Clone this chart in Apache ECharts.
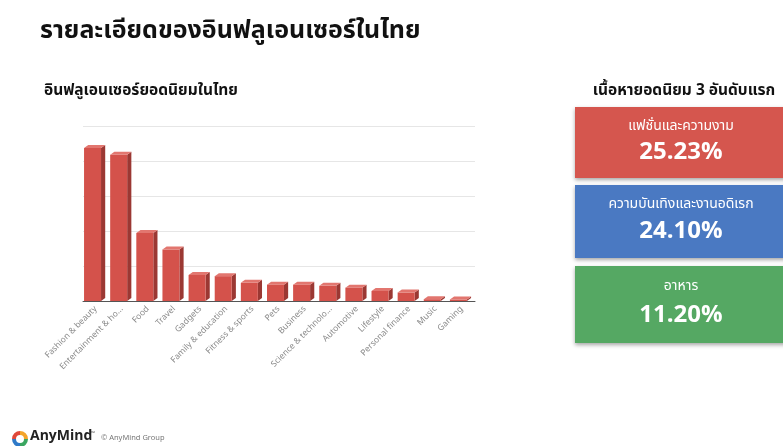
<!DOCTYPE html>
<html>
<head>
<meta charset="utf-8">
<script src="https://cdn.jsdelivr.net/npm/echarts@6/dist/echarts.min.js"></script>
<style>
html,body{margin:0;padding:0;background:#fff;}
#main{width:783px;height:446px;}
</style>
</head>
<body>
<div id="main"></div>
<script>
var categories = ["Fashion & beauty","Entertainment & ho...","Food","Travel","Gadgets","Family & education","Fitness & sports","Pets","Business","Science & technolo...","Automotive","Lifestyle","Personal finance","Music","Gaming"];
var shares = [25.23, 24.10, 11.20, 8.5, 4.3, 4.1, 3.0, 2.7, 2.7, 2.5, 2.2, 1.65, 1.4, 0.3, 0.25];
var topLabels = ["แฟชั่นและความงาม","ความบันเทิงและงานอดิเรก","อาหาร"];
var topValues = ["25.23%","24.10%","11.20%"];
var mainTitle = "รายละเอียดของอินฟลูเอนเซอร์ในไทย";
var chartTitle = "อินฟลูเอนเซอร์ยอดนิยมในไทย";
var sideTitle = "เนื้อหายอดนิยม 3 อันดับแรก";

var FONT = "'Noto Sans Thai','Noto Sans','DejaVu Sans',sans-serif";
var boxColors = ['#d5564e','#4a79c2','#55a863'];
var boxY = [107, 185, 266];
var boxH = [71, 73, 77];

var chart = echarts.init(document.getElementById('main'), null, {renderer:'canvas'});

var graphics = [
  {type:'text', x:40, y:33, style:{text:mainTitle, font:'bold 25px '+FONT, fill:'#111', verticalAlign:'middle'}},
  {type:'text', x:44, y:92, style:{text:chartTitle, font:'bold 15.5px '+FONT, fill:'#111', verticalAlign:'middle'}},
  {type:'text', x:684, y:92, style:{text:sideTitle, font:'bold 15.5px '+FONT, fill:'#111', align:'center', verticalAlign:'middle'}},
  // footer
  {type:'text', left:30, top:430, style:{text:'AnyMind', font:'bold 14px '+FONT, fill:'#222'}},
  {type:'text', left:91, top:431, style:{text:'™', font:'5px '+FONT, fill:'#444'}},
  {type:'text', left:101, top:434, style:{text:'© AnyMind Group', font:'7.5px '+FONT, fill:'#777'}},
  {type:'arc', shape:{cx:20, cy:439, r:6, startAngle:Math.PI*1.0, endAngle:Math.PI*1.5}, style:{stroke:'#e0483a', lineWidth:4, fill:null}},
  {type:'arc', shape:{cx:20, cy:439, r:6, startAngle:Math.PI*1.5, endAngle:Math.PI*2.0}, style:{stroke:'#f4a52a', lineWidth:4, fill:null}},
  {type:'arc', shape:{cx:20, cy:439, r:6, startAngle:0, endAngle:Math.PI*0.5}, style:{stroke:'#3aa660', lineWidth:4, fill:null}},
  {type:'arc', shape:{cx:20, cy:439, r:6, startAngle:Math.PI*0.5, endAngle:Math.PI*1.0}, style:{stroke:'#2f7ac8', lineWidth:4, fill:null}}
];
for (var i=0;i<3;i++){
  var y0 = boxY[i], h = boxH[i];
  graphics.push({type:'rect', shape:{x:575, y:y0, width:215, height:h}, style:{fill:boxColors[i], shadowColor:'rgba(0,0,0,0.35)', shadowBlur:4, shadowOffsetY:2}});
  graphics.push({type:'text', x:681, y:y0+h*0.28, style:{text:topLabels[i], font:'14px '+FONT, fill:'#fff', align:'center', verticalAlign:'middle'}});
  graphics.push({type:'text', x:681, y:y0+h*0.66, style:{text:topValues[i], font:'bold 24px '+FONT, fill:'#fff', align:'center', verticalAlign:'middle'}});
}

chart.setOption({
  animation:false,
  backgroundColor:'#fff',
  grid:{left:83, right:308, top:126, bottom:145},
  xAxis:{
    type:'category', data:categories,
    axisLine:{show:true, lineStyle:{color:'#555', width:1}},
    axisTick:{show:false},
    axisLabel:{rotate:45, interval:0, fontSize:8.5, color:'#8a8a8a', fontFamily:FONT, margin:7}
  },
  yAxis:{
    type:'value', min:0, max:28.86, interval:5.772,
    axisLabel:{show:false}, axisLine:{show:false}, axisTick:{show:false},
    splitLine:{lineStyle:{color:'#e6e6e6', width:1}}
  },
  series:[{
    type:'custom',
    data:shares.map(function(v,i){return [i,v];}),
    renderItem:function(params, api){
      var idx = api.value(0), v = api.value(1);
      var top = api.coord([idx, v]);
      var base = api.coord([idx, 0]);
      var bw = api.size([1,0])[0];
      var cx = top[0];
      var x0 = cx - bw*0.46, x1 = cx + bw*0.19;
      var d = bw*0.16, dy = 3;
      var ty = top[1], by = base[1];
      return {type:'group', children:[
        {type:'polygon', shape:{points:[[x1,ty],[x1+d,ty-dy],[x1+d,by-dy],[x1,by]]}, style:{fill:'#9b3833'}},
        {type:'rect', shape:{x:x0, y:ty, width:x1-x0, height:by-ty}, style:{fill:'#d4524b'}},
        {type:'polygon', shape:{points:[[x0,ty],[x0+d,ty-dy],[x1+d,ty-dy],[x1,ty]]}, style:{fill:'#e2766f'}}
      ]};
    }
  }],
  graphic:graphics
});
</script>
</body>
</html>
